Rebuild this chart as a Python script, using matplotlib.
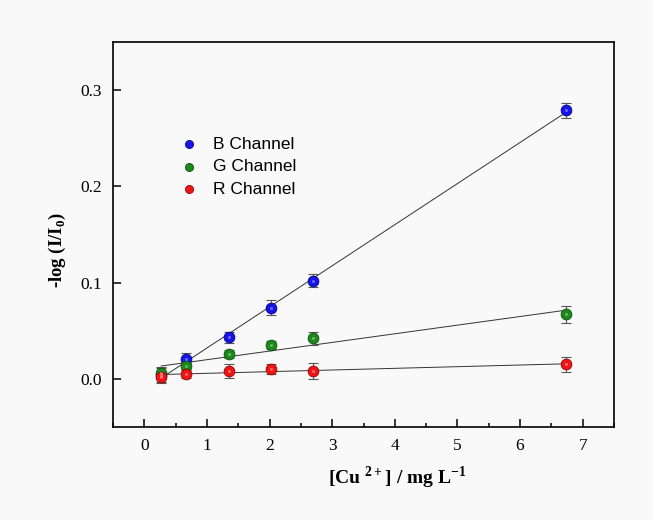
import numpy as np
import matplotlib
matplotlib.use("Agg")
import matplotlib.pyplot as plt
from matplotlib.ticker import MultipleLocator

plt.rcParams['mathtext.fontset'] = 'custom'
plt.rcParams['mathtext.rm'] = 'Liberation Serif'
plt.rcParams['mathtext.bf'] = 'Liberation Serif:bold'

conc = [0.27, 0.67, 1.35, 2.02, 2.69, 6.74]

b_val = [0.004, 0.021, 0.043, 0.074, 0.102, 0.279]
b_err = [0.007, 0.006, 0.006, 0.008, 0.007, 0.008]
g_val = [0.006, 0.013, 0.026, 0.035, 0.042, 0.067]
g_err = [0.006, 0.004, 0.004, 0.004, 0.007, 0.009]
r_val = [0.002, 0.005, 0.008, 0.010, 0.008, 0.015]
r_err = [0.006, 0.004, 0.007, 0.005, 0.008, 0.008]

labels = ['B Channel', 'G Channel', 'R Channel']
colors = ['#1515e8', '#1a8a1a', '#ee1515']
edges = ['#000090', '#0a500a', '#990000']

fig = plt.figure(figsize=(6.53, 5.2), dpi=100)
fig.patch.set_facecolor('#f9f9f9')
ax = fig.add_axes([113/653, 1 - 427/520, (614-113)/653, (427-42)/520])
ax.set_facecolor('#f9f9f9')

series = [b_val, g_val, r_val]
errs = [b_err, g_err, r_err]

# fit lines first, under the markers
for vals in series:
    k, c = np.polyfit(conc, vals, 1)
    xx = np.array([conc[0], conc[-1]])
    ax.plot(xx, k * xx + c, color='#333333', lw=0.7, zorder=2)

handles = []
for vals, e, col, ec, lab in zip(series, errs, colors, edges, labels):
    ax.errorbar(conc, vals, yerr=e, fmt='none', ecolor='#555555',
                elinewidth=0.8, capsize=3.5, capthick=0.8, zorder=3)
    h = ax.scatter(conc, vals, s=60, color=col, edgecolors=ec,
                   linewidths=0.6, zorder=4, label=lab)
    ax.scatter(conc, vals, s=5, color='white', alpha=0.35, zorder=5,
               linewidths=0)
    handles.append(h)

leg = ax.legend(handles=handles, loc='upper left',
                bbox_to_anchor=(0.085, 0.795), frameon=False,
                prop={'family': 'Liberation Sans', 'size': 12.5},
                handletextpad=0.4, labelspacing=0.42, markerscale=0.75)

ax.set_xlim(-0.5, 7.5)
ax.set_ylim(-0.05, 0.35)
ax.xaxis.set_major_locator(MultipleLocator(1))
ax.xaxis.set_minor_locator(MultipleLocator(0.5))
ax.yaxis.set_major_locator(MultipleLocator(0.1))
ax.yaxis.set_major_formatter(matplotlib.ticker.FormatStrFormatter('%.1f'))
ax.tick_params(which='both', direction='in', top=False, right=False,
               labelsize=12.5, width=1.1)
ax.tick_params(which='major', length=6, pad=8)
ax.tick_params(which='minor', length=3)
for lab in ax.get_xticklabels() + ax.get_yticklabels():
    lab.set_fontfamily('Liberation Serif')
for sp in ax.spines.values():
    sp.set_linewidth(1.2)

ax.set_xlabel(r'[Cu $^{\mathbf{2+}}$] / mg L$^{\mathbf{-1}}$',
              fontfamily='Liberation Serif', fontweight='bold',
              fontsize=14)
ax.xaxis.set_label_coords(0.567, -0.097)
ax.set_ylabel(r'-log (I/I$_{\mathbf{0}}$)', fontfamily='Liberation Serif',
              fontweight='bold', fontsize=13.5)
ax.yaxis.set_label_coords(-0.09, 0.46)

fig.savefig('out.png', dpi=100, facecolor=fig.get_facecolor())
